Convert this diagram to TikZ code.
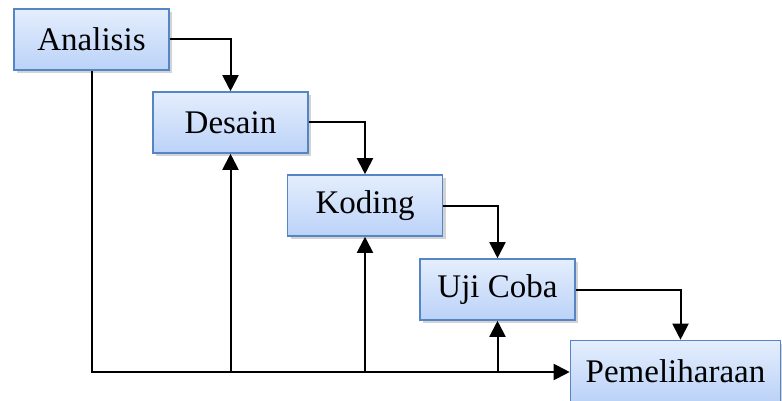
\documentclass[tikz,border=0pt]{standalone}
\usepackage{fontspec}
\setmainfont{Liberation Serif}
\usetikzlibrary{arrows.meta, shadows, calc}

\definecolor{boxline}{HTML}{5585C4}
\definecolor{boxtop}{HTML}{E4EEFD}
\definecolor{boxbottom}{HTML}{BBD2F8}

\begin{document}
\begin{tikzpicture}[x=0.5pt, y=-0.5pt,
    stage/.style={rectangle, draw=boxline, line width=0.8pt, top color=boxtop, bottom color=boxbottom, minimum width=77.5pt, minimum height=30.5pt, inner sep=0pt, font=\fontsize{16.5}{18}\selectfont, drop shadow={shadow xshift=1.5pt, shadow yshift=-1.5pt, opacity=0.35}},
    flow/.style={line width=1pt, -{Triangle[length=8pt, width=8pt]}},
    back/.style={line width=1pt}]

        \useasboundingbox (0,0) rectangle (782,401);

        % Stages of the waterfall
        \node[stage] (analisis) at (91.5, 39.5) {Analisis};
        \node[stage] (desain) at (230.5, 122.5) {Desain};
        \node[stage] (koding) at (365, 205.5) {Koding};
        \node[stage] (ujicoba) at (497.5, 289.5) {Uji Coba};
        \node[stage, minimum width=105pt] (pemeliharaan) at (675.5, 371) {Pemeliharaan};

        % Forward steps
        \draw[flow] (analisis.east) -| (desain.north);
        \draw[flow] (desain.east) -| (koding.north);
        \draw[flow] (koding.east) -| (ujicoba.north);
        \draw[flow] (ujicoba.east) -| ([xshift=2.5pt]pemeliharaan.north);

        % Feedback line along the bottom
        \coordinate (base) at (91.5, 372);
        \draw[flow] (analisis.south) -- (base) -- (base -| pemeliharaan.west);
        \draw[flow] (base -| desain.south) -- (desain.south);
        \draw[flow] (base -| koding.south) -- (koding.south);
        \draw[flow] (base -| ujicoba.south) -- (ujicoba.south);

    \end{tikzpicture}
\end{document}
